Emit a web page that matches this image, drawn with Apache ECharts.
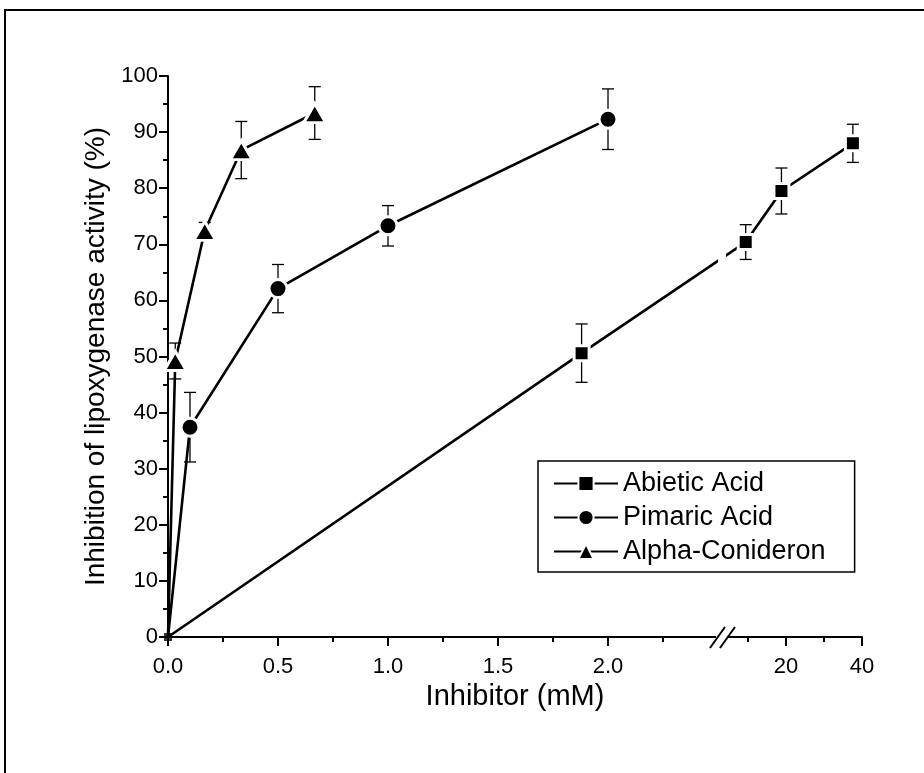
<!DOCTYPE html>
<html><head><meta charset="utf-8">
<script src="https://cdn.jsdelivr.net/npm/echarts@6/dist/echarts.min.js"></script>
<style>html,body{margin:0;padding:0;background:#fff}#c{width:924px;height:773px}</style>
</head><body><div id="c"></div>
<script>
// ---- data (x in mM, y in % inhibition, err = +/- error bar) ----
const seriesNames = ['Abietic Acid', 'Pimaric Acid', 'Alpha-Conideron'];
const abieticX = [0, 1.88, 9.4, 18.8, 37.6];
const abieticY = [0, 50.6, 70.4, 79.5, 88.0];
const abieticErr = [0, 5.2, 3.1, 4.1, 3.4];
const pimaricX = [0, 0.1, 0.5, 1.0, 2.0];
const pimaricY = [0, 37.4, 62.1, 73.3, 92.3];
const pimaricErr = [0, 6.2, 4.3, 3.6, 5.4];
const alphaX = [0, 0.033, 0.167, 0.333, 0.667];
const alphaY = [0, 49.2, 72.4, 86.8, 93.4];
const alphaErr = [0, 3.2, 1.5, 5.1, 4.7];
const xMajorTicks = [0, 0.5, 1.0, 1.5, 2.0, 20, 40];
const xTickLabels = ['0.0', '0.5', '1.0', '1.5', '2.0', '20', '40'];
const xMinorTicks = [0.25, 0.75, 1.25, 1.75, 2.25, 10, 30];
const yMin = 0, yMax = 100, yInterval = 10;

// ---- broken x axis: linear 0..2.5 mM, then compressed linear segment up to 40 mM ----
const SEG1_END = 2.5;
const SEG2_OFFSET = 2.4636, SEG2_SCALE = 0.017273;
const BREAK_AT = 2.518;
function toAxis(x) { return x <= SEG1_END ? x : SEG2_OFFSET + x * SEG2_SCALE; }

const FONT = 'Liberation Sans, Arial, sans-serif';
const sets = [
  { name: seriesNames[0], xs: abieticX, ys: abieticY, es: abieticErr, symbol: 'rect', size: 15 },
  { name: seriesNames[1], xs: pimaricX, ys: pimaricY, es: pimaricErr, symbol: 'circle', size: 18 },
  { name: seriesNames[2], xs: alphaX, ys: alphaY, es: alphaErr, symbol: 'triangle', size: [22, 19] }
];

const series = [];
sets.forEach(s => {
  series.push({
    type: 'custom', name: s.name + ' error', z: 3, silent: true,
    data: s.xs.map((x, i) => [toAxis(x), s.ys[i], s.es[i]]).filter(d => d[2] > 0),
    renderItem(params, api) {
      const x = api.value(0), y = api.value(1), e = api.value(2);
      const t = api.coord([x, y + e]), b = api.coord([x, y - e]);
      const hw = 6;
      const st = { stroke: '#000', lineWidth: 1.3 };
      return { type: 'group', children: [
        { type: 'line', shape: { x1: t[0], y1: t[1], x2: b[0], y2: b[1] }, style: st },
        { type: 'line', shape: { x1: t[0] - hw, y1: t[1], x2: t[0] + hw, y2: t[1] }, style: st },
        { type: 'line', shape: { x1: b[0] - hw, y1: b[1], x2: b[0] + hw, y2: b[1] }, style: st }
      ]};
    }
  });
  series.push({
    type: 'line', name: s.name, z: 4,
    data: s.xs.map((x, i) => [toAxis(x), s.ys[i]]),
    symbol: s.symbol,
    symbolSize: (v, p) => (p.dataIndex === 0 ? 0 : s.size),
    showAllSymbol: true,
    lineStyle: { color: '#000', width: 2.6 },
    itemStyle: { color: '#000', borderColor: '#fff', borderWidth: 3 },
    animation: false
  });
});
// small common marker at the origin (all three series start at 0,0)
series.push({
  type: 'scatter', name: 'origin', z: 5, silent: true,
  data: [[toAxis(abieticX[0]), abieticY[0]]],
  symbol: 'rect', symbolSize: 8, itemStyle: { color: '#000' }
});

const chart = echarts.init(document.getElementById('c'), null, { renderer: 'canvas' });
const axisTextStyle = { fontFamily: FONT, fontSize: 22, color: '#000' };
const xMax = toAxis(40);
chart.setOption({
  animation: false,
  backgroundColor: '#fff',
  grid: { left: 168, top: 76, right: 62, bottom: 136 },
  legend: {
    data: seriesNames, orient: 'vertical', left: 538, top: 461,
    padding: [9, 29, 7, 15], itemGap: 7, itemWidth: 64, itemHeight: 19,
    borderColor: '#000', borderWidth: 1.5,
    textStyle: { fontFamily: FONT, fontSize: 27, color: '#000' }
  },
  xAxis: [{
    type: 'value', min: 0, max: xMax,
    name: 'Inhibitor (mM)', nameLocation: 'middle', nameGap: 40,
    nameTextStyle: { fontFamily: FONT, fontSize: 29, color: '#000' },
    axisLine: { lineStyle: { color: '#000', width: 2 } },
    axisTick: { show: true, length: 9, lineStyle: { color: '#000', width: 2 }, customValues: xMajorTicks.map(toAxis) },
    axisLabel: Object.assign({ margin: 19, customValues: xMajorTicks.map(toAxis),
      formatter: v => { let bi = 0, bd = 1e9; xMajorTicks.forEach((t, i) => { const d = Math.abs(toAxis(t) - v); if (d < bd) { bd = d; bi = i; } }); return xTickLabels[bi]; } }, axisTextStyle),
    splitLine: { show: false }
  }, {
    type: 'value', min: 0, max: xMax, position: 'bottom', gridIndex: 0,
    axisLine: { show: false },
    axisTick: { show: true, length: 5, lineStyle: { color: '#000', width: 2 }, customValues: xMinorTicks.map(toAxis) },
    axisLabel: { show: false },
    splitLine: { show: false }
  }],
  yAxis: {
    type: 'value', min: yMin, max: yMax, interval: yInterval,
    name: 'Inhibition of lipoxygenase activity (%)', nameLocation: 'middle', nameGap: 57, nameRotate: 90,
    nameTextStyle: { fontFamily: FONT, fontSize: 28, color: '#000' },
    axisLine: { show: true, lineStyle: { color: '#000', width: 2 } },
    axisTick: { show: true, length: 9, lineStyle: { color: '#000', width: 2 } },
    minorTick: { show: true, splitNumber: 2, length: 5, lineStyle: { color: '#000', width: 2 } },
    axisLabel: Object.assign({ margin: 10 }, axisTextStyle),
    splitLine: { show: false }
  },
  series: series
});

// axis-break decoration placed through the axis scale
const bx = chart.convertToPixel({ xAxisIndex: 0 }, BREAK_AT);
const yTopPx = chart.convertToPixel({ yAxisIndex: 0 }, yMax);
const y0 = chart.convertToPixel({ yAxisIndex: 0 }, yMin);
chart.setOption({
  graphic: [
    { type: 'rect', z: 100, shape: { x: bx - 4, y: yTopPx, width: 8, height: 440 - yTopPx }, style: { fill: '#fff' } },
    { type: 'rect', z: 100, shape: { x: bx - 6, y: y0 - 3, width: 11, height: 6 }, style: { fill: '#fff' } },
    { type: 'line', z: 101, shape: { x1: bx - 12, y1: y0 + 11, x2: bx + 3, y2: y0 - 10 }, style: { stroke: '#000', lineWidth: 2 } },
    { type: 'line', z: 101, shape: { x1: bx - 2, y1: y0 + 11, x2: bx + 13, y2: y0 - 10 }, style: { stroke: '#000', lineWidth: 2 } },
    { type: 'rect', z: 100, shape: { x: 5, y: 10, width: 1000, height: 1000 }, style: { fill: null, stroke: '#000', lineWidth: 2 } }
  ]
});
</script>
</body></html>
